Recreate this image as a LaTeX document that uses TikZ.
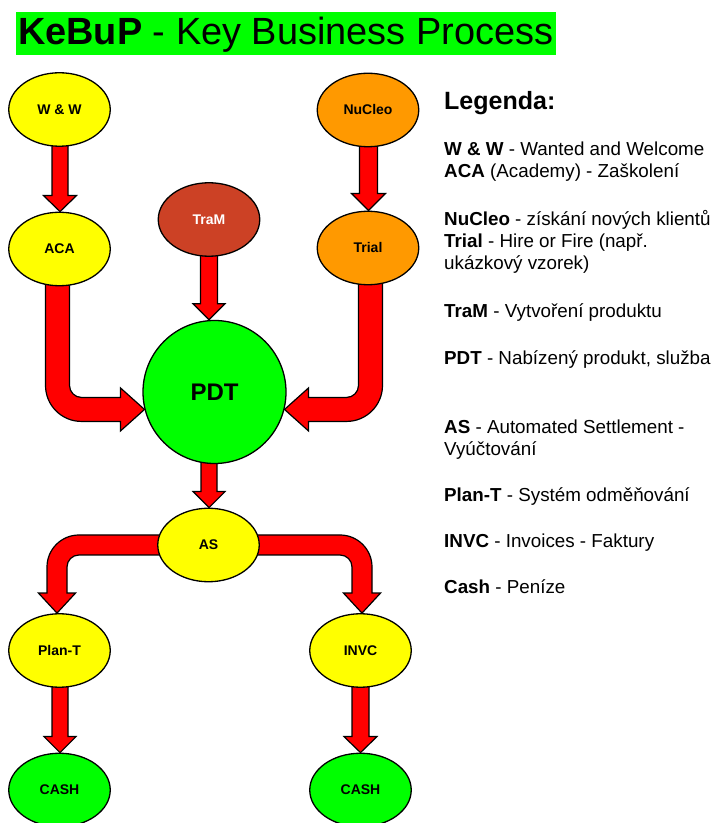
\documentclass[tikz,border=0pt]{standalone}
\usepackage{fontspec}
\setmainfont{Liberation Sans}
\usetikzlibrary{shapes.geometric,backgrounds,calc}
\definecolor{ygelb}{HTML}{FFFF00}
\definecolor{orng}{HTML}{FF9900}
\definecolor{tramc}{HTML}{CC4125}
\definecolor{grn}{HTML}{00FF00}
\definecolor{arred}{HTML}{FF0000}
\tikzset{
  proc/.style={ellipse, draw=black, line width=1.3pt, minimum width=101.5pt, minimum height=73.5pt, inner sep=0pt, font=\bfseries\fontsize{14}{16}\selectfont},
  blockarr/.style={fill=arred, draw=black, line width=1.2pt, line join=miter},
  leg/.style={anchor=base west, inner sep=0pt, font=\fontsize{18.8}{22}\selectfont}
}
% #1 src, #2 dst, #3 x-offset, #4 shaft half, #5 head half, #6 head length
\newcommand\straightarr[6]{%
  \path[blockarr] let \p1=(#1.south), \p2=(#2.north) in
    (\x1+#3-#4, \y1+8) -- (\x1+#3-#4, \y2+#6) -- (\x1+#3-#5, \y2+#6) -- (\x1+#3, \y2)
    -- (\x1+#3+#5, \y2+#6) -- (\x1+#3+#4, \y2+#6) -- (\x1+#3+#4, \y1+8) -- cycle;}
\begin{document}
\begin{tikzpicture}[x=1pt,y=1pt]
\useasboundingbox (0,0) rectangle (717,823);
% title
\fill[grn] (16,768) rectangle (556,811);
\node[anchor=base west, inner sep=0pt, font=\fontsize{37.9}{44}\selectfont] (title) at (18,778) {\textbf{KeBuP} - Key Business Process};
% nodes
\node[proc, fill=ygelb] (ww) at (59.5,713.5) {W \& W};
\node[proc, fill=ygelb] (aca) at (59.5,574) {ACA};
\node[proc, fill=tramc, text=white] (tram) at (209,603.5) {TraM};
\node[proc, fill=orng] (nucleo) at (368,713) {NuCleo};
\node[proc, fill=orng] (trial) at (368,575) {Trial};
\node[circle, draw=black, line width=1.3pt, fill=grn, minimum size=143pt, inner sep=0pt, font=\bfseries\fontsize{24}{28}\selectfont] (pdt) at (214.5,431) {PDT};
\node[proc, fill=ygelb] (as) at (208.5,278) {AS};
\node[proc, fill=ygelb] (plant) at (59.5,172.5) {Plan-T};
\node[proc, fill=ygelb] (invc) at (360.5,172.5) {INVC};
\node[proc, fill=grn] (cash1) at (59.5,33) {CASH};
\node[proc, fill=grn] (cash2) at (360.5,33) {CASH};
% arrows
\begin{scope}[on background layer]
\straightarr{ww}{aca}{0.5}{8}{16.5}{16}
\straightarr{nucleo}{trial}{0.5}{9}{17}{17}
\straightarr{tram}{pdt}{0}{8.5}{16}{16}
\straightarr{pdt}{as}{-5.5}{8}{16}{16}
\straightarr{plant}{cash1}{0.5}{8}{16}{16}
\straightarr{invc}{cash2}{0}{8.5}{16.5}{16}
% ACA -> PDT
\path[blockarr] let \p1=(aca.south), \p2=(pdt.194) in
  (\x1-2-12, \y1+8) -- (\x1-2-12, \y2-12+36) arc[start angle=180, end angle=270, radius=36]
  -- (\x2-24, \y2-12) -- (\x2-24, \y2-21.5) -- (\x2, \y2) -- (\x2-24, \y2+21.5) -- (\x2-24, \y2+12)
  -- (\x1-2+12+12, \y2+12) arc[start angle=270, end angle=180, radius=12]
  -- (\x1-2+12, \y1+8) -- cycle;
% Trial -> PDT
\path[blockarr] let \p1=(trial.south), \p2=(pdt.-14) in
  (\x1+2.5+12, \y1+8) -- (\x1+2.5+12, \y2-12+36) arc[start angle=0, end angle=-90, radius=36]
  -- (\x2+24, \y2-12) -- (\x2+24, \y2-21.5) -- (\x2, \y2) -- (\x2+24, \y2+21.5) -- (\x2+24, \y2+12)
  -- (\x1+2.5-12-12, \y2+12) arc[start angle=-90, end angle=0, radius=12]
  -- (\x1+2.5-12, \y1+8) -- cycle;
% AS -> Plan-T
\path[blockarr] let \p1=(as.west), \p2=(plant.north) in
  (\x1+8, \y1+10) -- (\x2-2.5-10+32, \y1+10) arc[start angle=90, end angle=180, radius=32]
  -- (\x2-2.5-10, \y2+20) -- (\x2-2.5-18.5, \y2+20) -- (\x2-2.5, \y2) -- (\x2-2.5+18.5, \y2+20) -- (\x2-2.5+10, \y2+20)
  -- (\x2-2.5+10, \y1-10-12) arc[start angle=180, end angle=90, radius=12]
  -- (\x1+8, \y1-10) -- cycle;
% AS -> INVC
\path[blockarr] let \p1=(as.east), \p2=(invc.north) in
  (\x1-8, \y1+10) -- (\x2+1.5+10-32, \y1+10) arc[start angle=90, end angle=0, radius=32]
  -- (\x2+1.5+10, \y2+20) -- (\x2+1.5+18.5, \y2+20) -- (\x2+1.5, \y2) -- (\x2+1.5-18.5, \y2+20) -- (\x2+1.5-10, \y2+20)
  -- (\x2+1.5-10, \y1-10-12) arc[start angle=0, end angle=90, radius=12]
  -- (\x1-8, \y1-10) -- cycle;
\end{scope}
% legend
\node[anchor=base west, inner sep=0pt, font=\bfseries\fontsize{25}{30}\selectfont] (legtitle) at (444,713) {Legenda:};
\node[leg] (l1) at (444,667) {\textbf{W \& W} - Wanted and Welcome};
\node[leg] (l2) at (444,645) {\textbf{ACA} (Academy) - Zaškolení};
\node[leg] (l3) at (444,597.5) {\textbf{NuCleo} - získání nových klientů};
\node[leg] (l4) at (444,575.5) {\textbf{Trial} - Hire or Fire (např.};
\node[leg] (l5) at (444,553.5) {ukázkový vzorek)};
\node[leg] (l6) at (444,505.5) {\textbf{TraM} - Vytvoření produktu};
\node[leg] (l7) at (444,458.5) {\textbf{PDT} - Nabízený produkt, služba};
\node[leg] (l8) at (444,389.5) {\textbf{AS} - Automated Settlement -};
\node[leg] (l9) at (444,367.5) {Vyúčtování};
\node[leg] (l10) at (444,321.5) {\textbf{Plan-T} - Systém odměňování};
\node[leg] (l11) at (444,275.5) {\textbf{INVC} - Invoices - Faktury};
\node[leg] (l12) at (444,229.5) {\textbf{Cash} - Peníze};
\end{tikzpicture}
\end{document}
